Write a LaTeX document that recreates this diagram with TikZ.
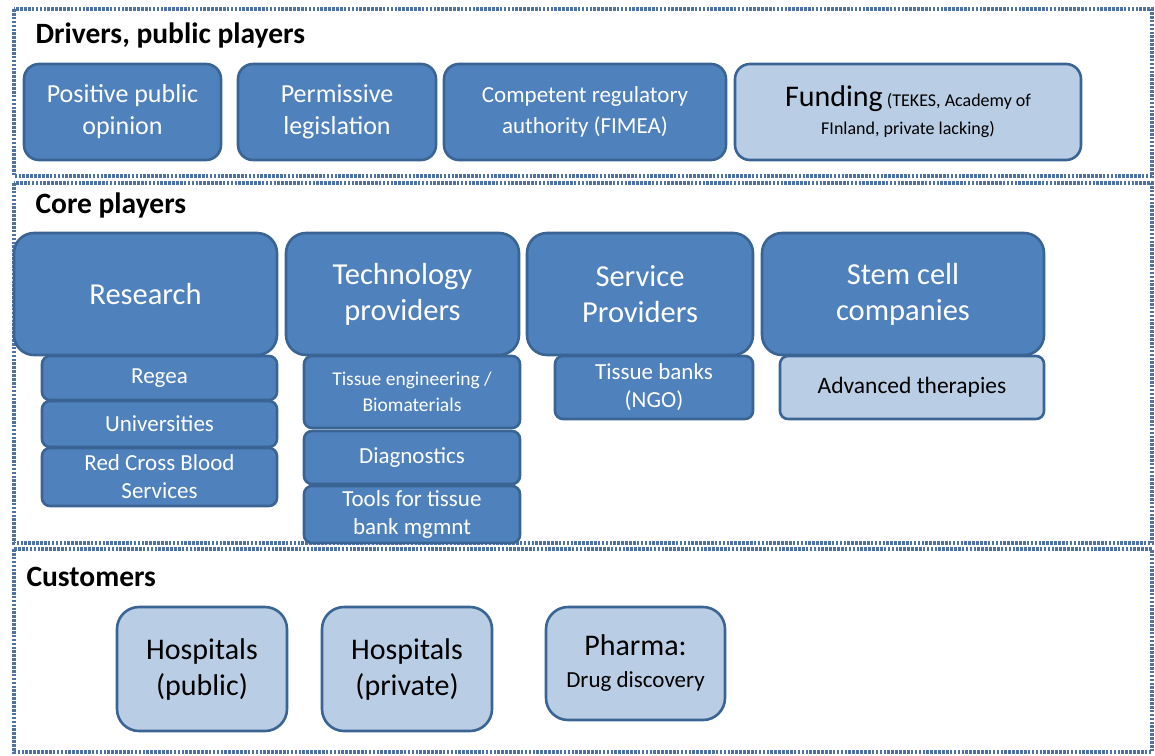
\documentclass[tikz,border=0pt]{standalone}
\usepackage{fontspec}
\setmainfont{Carlito}
\usepackage{tikz}
\usetikzlibrary{positioning}
\definecolor{darkb}{HTML}{4F81BD}
\definecolor{lightb}{HTML}{B9CDE5}
\definecolor{edgeb}{HTML}{3A6493}
\definecolor{framec}{HTML}{4F72A4}
\tikzset{
  frame/.style={draw=framec,line width=3.6pt,dash pattern=on 2.6pt off 1.3pt},
  ttl/.style={anchor=west,font=\fontsize{29.5}{30}\selectfont\bfseries},
  dbox/.style={draw=edgeb,line width=2.6pt,fill=darkb,text=white,align=center,rounded corners=15pt},
  lbox/.style={draw=edgeb,line width=2.6pt,fill=lightb,text=black,align=center,rounded corners=15pt},
  sbox/.style={dbox,rounded corners=8pt,font=\fontsize{23}{28}\selectfont}
}
\begin{document}
\begin{tikzpicture}[x=1pt,y=-1pt]
\useasboundingbox (0,0) rectangle (1155,755);
% section frames
\draw[frame] (14,9) rectangle (1152,176);
\draw[frame] (14,183) rectangle (1152,543);
\draw[frame] (14,549) rectangle (1152,752);
\node[ttl] (tdrv) at (32,35) {Drivers, public players};
\node[ttl] (tcore) at (32,205) {Core players};
\node[ttl] (tcust) at (23,577) {Customers};
% drivers
\node[dbox,minimum width=197,minimum height=96,font=\fontsize{26}{32}\selectfont] (opin) at (122.5,112) {Positive public\\opinion};
\node[dbox,minimum width=198,minimum height=96,font=\fontsize{26}{32}\selectfont] (legis) at (337,112) {Permissive\\legislation};
\node[dbox,minimum width=282,minimum height=96,font=\fontsize{23}{31}\selectfont] (fimea) at (585,112) {Competent regulatory\\authority (FIMEA)};
\node[lbox,minimum width=346,minimum height=96,font=\fontsize{18}{28}\selectfont] (fund) at (908,112) {{\fontsize{30}{28}\selectfont Funding} (TEKES, Academy of\\FInland, private lacking)};
% core players
\node[dbox,rounded corners=20pt,minimum width=263,minimum height=122,font=\fontsize{30.5}{36}\selectfont] (res) at (145.5,294) {Research};
\node[dbox,rounded corners=20pt,minimum width=233,minimum height=122,font=\fontsize{30.5}{36}\selectfont] (tech) at (402.5,294) {Technology\\providers};
\node[dbox,rounded corners=20pt,minimum width=226,minimum height=122,font=\fontsize{30.5}{36}\selectfont] (serv) at (640,294) {Service\\Providers};
\node[dbox,rounded corners=20pt,minimum width=282,minimum height=122,font=\fontsize{30.5}{36}\selectfont] (stem) at (903,294) {Stem cell\\companies};
\node[sbox,minimum width=235,minimum height=44] (regea) at (159.5,378) {Regea};
\node[sbox,minimum width=235,minimum height=46] (univ) at (159.5,424) {Universities};
\node[sbox,minimum width=235,minimum height=58] (redx) at (159.5,477) {Red Cross Blood\\Services};
\node[sbox,minimum width=216,minimum height=72,font=\fontsize{19.5}{26}\selectfont] (tiss) at (412,392) {Tissue engineering /\\Biomaterials};
\node[sbox,minimum width=216,minimum height=53] (diag) at (412,457.5) {Diagnostics};
\node[sbox,minimum width=216,minimum height=57] (tools) at (412,514.5) {Tools for tissue\\bank mgmnt};
\node[sbox,minimum width=198,minimum height=63] (tbank) at (654,387.5) {Tissue banks\\(NGO)};
\node[lbox,rounded corners=8pt,minimum width=264,minimum height=63,font=\fontsize{23.5}{27}\selectfont] (adv) at (912,387.5) {Advanced therapies};
% customers
\node[lbox,rounded corners=22pt,minimum width=170,minimum height=124,font=\fontsize{30}{36}\selectfont] (hpub) at (202,669) {Hospitals\\(public)};
\node[lbox,rounded corners=22pt,minimum width=170,minimum height=124,font=\fontsize{30}{36}\selectfont] (hpriv) at (407,669) {Hospitals\\(private)};
\node[lbox,rounded corners=22pt,minimum width=179,minimum height=113,font=\fontsize{23}{32}\selectfont] (pharma) at (635.5,663.5) {{\fontsize{30}{32}\selectfont Pharma:}\\Drug discovery};
\end{tikzpicture}
\end{document}
